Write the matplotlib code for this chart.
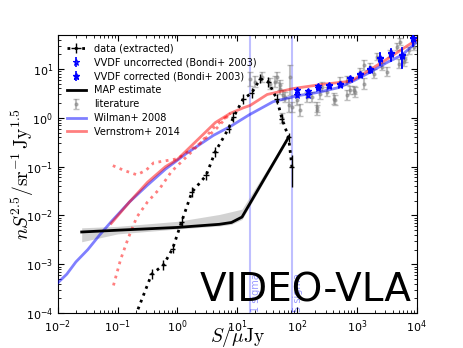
import matplotlib
matplotlib.use("Agg")
import matplotlib.pyplot as plt
import numpy as np

plt.rcParams['mathtext.fontset'] = 'cm'
plt.rcParams['font.family'] = 'DejaVu Sans'

# extracted source counts (black dotted)
data_x = [0.178, 0.37, 0.58, 0.83, 1.17, 1.74, 3.01, 4.27, 7.13, 8.63, 12.6, 17.4, 24.2, 33.1, 45.7, 55.8, 72.1, 82.0]
data_y = [6.3e-5, 6.3e-4, 9.6e-4, 2.1e-3, 7.4e-3, 0.030, 0.066, 0.20, 0.60, 1.03, 2.45, 3.2, 6.3, 5.4, 2.45, 0.96, 0.40, 0.098]
data_yerr_frac = [0.3, 0.25, 0.25, 0.25, 0.25, 0.25, 0.25, 0.25, 0.25, 0.25, 0.25, 0.25, 0.25, 0.25, 0.25, 0.25, 0.25, 0.75]

# VVDF (Bondi+ 2003)
vvdf_x = [99.5, 150, 221, 337, 518, 759, 1114, 1683, 2477, 3784, 5715, 8730]
vvdf_corr = [3.63, 3.55, 4.39, 4.6, 5.0, 6.6, 7.7, 9.8, 16.9, 21.0, 19.0, 43.0]
vvdf_unc = [2.87, 2.87, 4.0, 4.4, 4.8, 6.3, 7.4, 9.4, 16.2, 20.0, 18.0, 41.0]
vvdf_err = [0.12, 0.12, 0.1, 0.1, 0.1, 0.1, 0.12, 0.15, 0.3, 0.3, 0.45, 0.3]

# MAP estimate and its band
map_x = [0.025, 0.1, 1.0, 5.0, 8.0, 12.0, 72.0]
map_y = [4.6e-3, 5.0e-3, 5.7e-3, 6.6e-3, 7.2e-3, 9.3e-3, 0.40]
map_lo = [2.9e-3, 4.2e-3, 5.3e-3, 6.1e-3, 6.6e-3, 8.3e-3, 0.37]
map_hi = [5.6e-3, 6.0e-3, 7.6e-3, 10.5e-3, 12e-3, 13.5e-3, 0.44]

# literature compilation (grey)
lit_x = [16.4, 20, 25.8, 35.6, 43, 46, 52, 52, 56, 59, 63, 72, 77, 82, 100, 113, 147, 178, 215, 215, 245, 261,
         317, 408, 436, 530, 686, 686, 778, 884, 944, 1145, 1300, 1300, 1683, 1910, 2178, 2640, 3200, 3640,
         4710, 5010, 5350, 6080, 6490, 7380, 8930]
lit_y = [6.3, 5.4, 6.8, 5.0, 5.4, 6.8, 3.9, 4.6, 0.97, 2.87, 2.65, 1.8, 6.8, 1.65, 2.27, 1.42, 2.65, 2.65, 1.65, 1.42,
         3.1, 4.25, 3.36, 2.46, 2.27, 5.4, 5.8, 2.87, 3.64, 3.64, 3.36, 8.6, 4.98, 11.8, 10.9, 8.0, 17.4, 10.9, 8.6,
         20.5, 27.9, 12.8, 35.3, 13.8, 16.2, 23.9, 27.9]
lit_err = [0.4, 0.3, 0.3, 0.3, 0.3, 0.3, 0.3, 0.3, 0.3, 0.3, 0.3, 0.4, 0.8, 0.3, 0.3, 0.35, 0.3, 0.3, 0.3, 0.3,
           0.3, 0.25, 0.25, 0.3, 0.3, 0.25, 0.25, 0.3, 0.25, 0.25, 0.3, 0.2, 0.3, 0.3, 0.2, 0.25, 0.2, 0.2, 0.25,
           0.2, 0.2, 0.25, 0.2, 0.25, 0.2, 0.2, 0.2]

# models
wil_x = [0.01, 0.0141, 0.02, 0.0316, 0.05, 0.079, 0.158, 0.316, 0.63, 1.41, 3.98, 7.9, 15.8, 39.8, 100, 224, 501,
         891, 1585, 3162, 5623, 10000]
wil_y = [4.2e-4, 6.3e-4, 1.12e-3, 2.0e-3, 4.0e-3, 7.6e-3, 0.019, 0.042, 0.089, 0.186, 0.436, 0.68, 1.15, 2.14,
         2.82, 3.31, 4.17, 5.75, 8.3, 13.5, 19.1, 35.5]
ver_x = [0.078, 0.158, 0.316, 0.63, 1.0, 2.4, 4.3, 7.6, 12.6, 16.4, 31.6, 87, 251, 794, 1585, 3162, 10000]
ver_y = [6.9e-3, 0.019, 0.048, 0.10, 0.141, 0.40, 0.80, 1.23, 1.6, 1.79, 3.0, 3.98, 4.79, 5.62, 9.3, 15.8, 39.8]
ver_up_x = [0.083, 0.13, 0.21, 0.3, 0.4, 1.0, 2.4, 4.0, 7.6]
ver_up_y = [0.105, 0.083, 0.068, 0.085, 0.12, 0.145, 0.30, 0.62, 1.23]
ver_lo_x = [0.085, 0.112, 0.151, 0.209, 0.316, 0.5, 0.79, 1.41, 2.5, 4.47, 7.6]
ver_lo_y = [3.7e-4, 1.26e-3, 3.5e-3, 9.3e-3, 0.019, 0.035, 0.079, 0.158, 0.316, 0.60, 1.23]

sigma_lines = [16.5, 82.0]
sigma_labels = ['1 sigma', '5 sigma']

fig = plt.figure(figsize=(4.63, 3.48), dpi=100)
ax = fig.add_axes([0.125, 0.1, 0.775, 0.8])
ax.set_xscale('log')
ax.set_yscale('log')

data_y = np.array(data_y)
derr = data_y * np.array(data_yerr_frac)
h_data = ax.errorbar(data_x, data_y, xerr=np.array(data_x) * 0.1, yerr=[derr * 0.8, derr], fmt=':', color='k',
                     lw=2, elinewidth=1, capsize=0, label='data (extracted)', zorder=5)

vc = np.array(vvdf_corr)
vu = np.array(vvdf_unc)
ve = np.array(vvdf_err)
h_unc = ax.errorbar(vvdf_x, vu, yerr=vu * ve, fmt='*', color='b', mfc='none', ms=5, mew=0.8, capsize=0,
                    elinewidth=1.2, label='VVDF uncorrected (Bondi+ 2003)', zorder=4)
h_cor = ax.errorbar(vvdf_x, vc, yerr=vc * ve, fmt='*', color='b', ms=5, capsize=0, elinewidth=1.2,
                    label='VVDF corrected (Bondi+ 2003)', zorder=4)

ax.fill_between(map_x, map_lo, map_hi, color='gray', alpha=0.35, lw=0, zorder=3)
h_map, = ax.plot(map_x, map_y, 'k-', lw=2, label='MAP estimate', zorder=6)

ly = np.array(lit_y)
le = np.array(lit_err)
h_lit = ax.errorbar(lit_x, ly, yerr=[ly * le * 0.7, ly * le], fmt='.', color='gray', alpha=0.5, ms=4, capsize=2,
                    label='literature', zorder=2)

h_wil, = ax.plot(wil_x, wil_y, '-', color='b', alpha=0.5, lw=2, label='Wilman+ 2008', zorder=3)
h_ver, = ax.plot(ver_x, ver_y, '-', color='r', alpha=0.5, lw=2, label='Vernstrom+ 2014', zorder=3)
ax.plot(ver_up_x, ver_up_y, ':', color='r', alpha=0.5, lw=2, zorder=3)
ax.plot(ver_lo_x, ver_lo_y, ':', color='r', alpha=0.5, lw=2, zorder=3)

for xs, lab in zip(sigma_lines, sigma_labels):
    ax.axvline(xs, color='b', alpha=0.25, lw=1.5, zorder=1)
    ax.text(xs * 1.04, 1.05e-4, lab, rotation=90, color='b', alpha=0.4, fontsize=7, va='bottom', ha='left')

ax.text(0.985, 0.043, 'VIDEO-VLA', transform=ax.transAxes, fontsize=28, ha='right', va='baseline', zorder=10)

ax.set_xlim(1e-2, 1e4)
ax.set_ylim(1e-4, 50)
ax.set_xlabel(r'$S/\mu\mathrm{Jy}$', fontsize=14)
ax.set_ylabel(r'$nS^{2.5}/\mathrm{sr}^{-1}\,\mathrm{Jy}^{1.5}$', fontsize=14)
ax.xaxis.set_label_coords(0.5, -0.04)
ax.yaxis.set_label_coords(-0.06, 0.5)
ax.tick_params(which='both', direction='in', top=True, right=True, labelsize=8)
ax.tick_params(which='major', length=4)
ax.tick_params(which='minor', length=2)

ax.legend([h_data, h_unc, h_cor, h_map, h_lit, h_wil, h_ver],
          ['data (extracted)', 'VVDF uncorrected (Bondi+ 2003)', 'VVDF corrected (Bondi+ 2003)',
           'MAP estimate', 'literature', 'Wilman+ 2008', 'Vernstrom+ 2014'],
          loc='upper left', fontsize=7, frameon=False, labelspacing=0.4, numpoints=1)

fig.savefig('out.png', dpi=100)
